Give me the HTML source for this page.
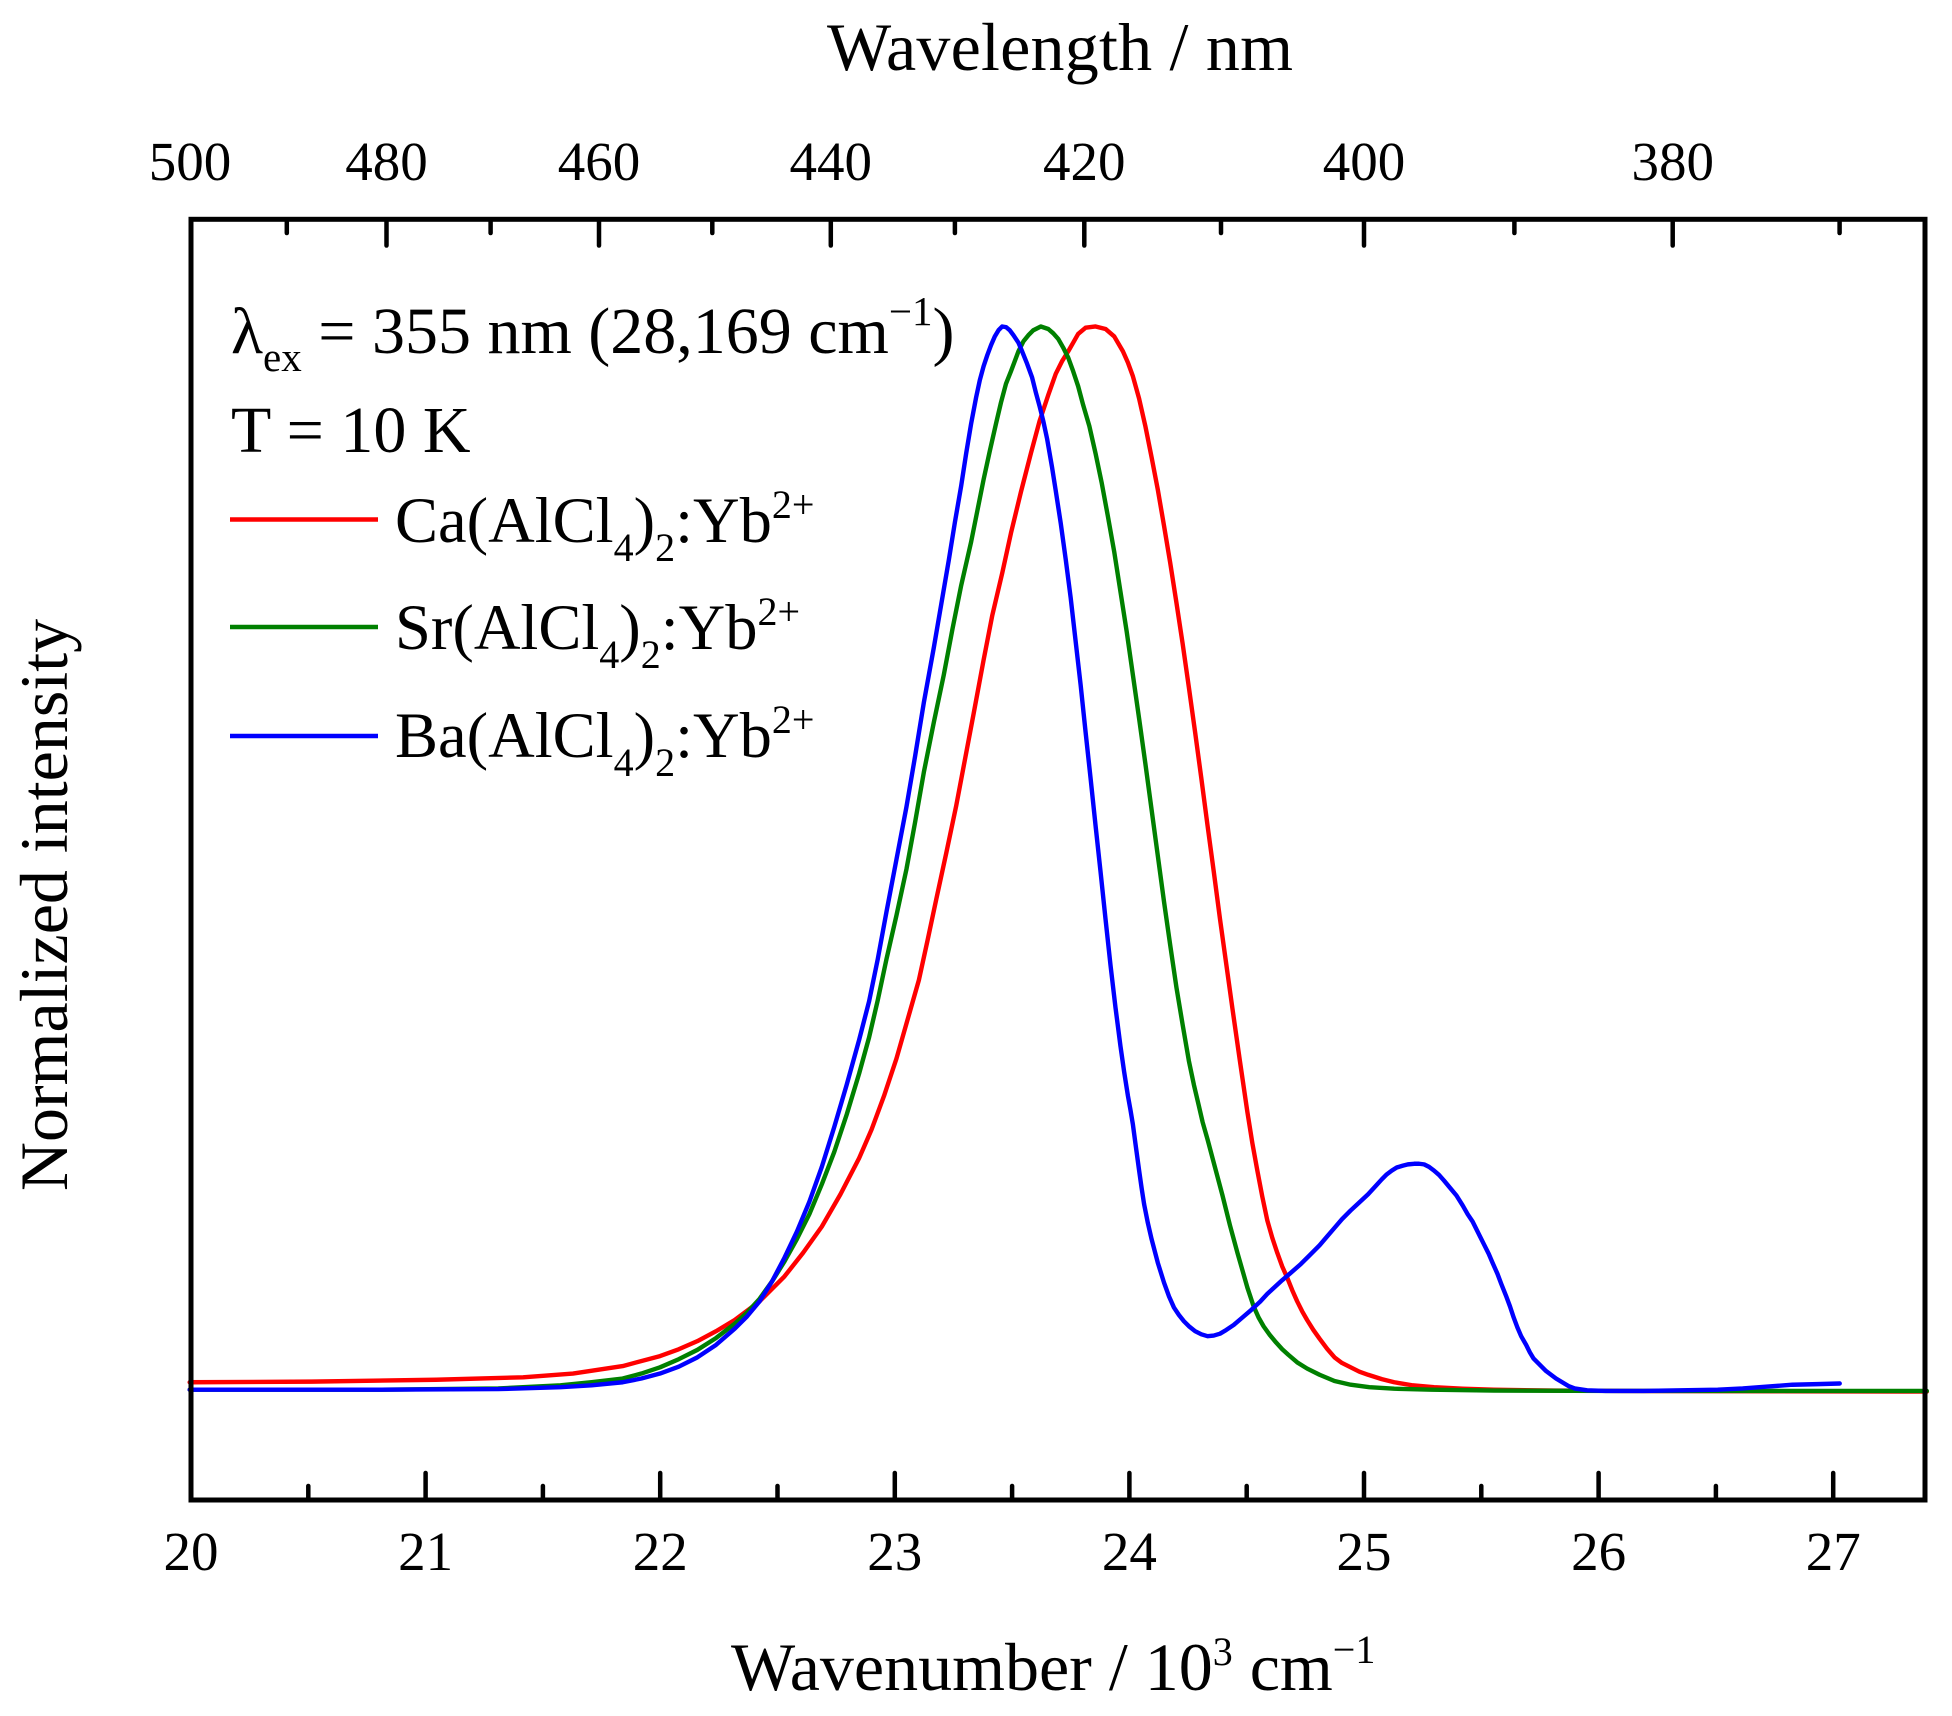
<!DOCTYPE html>
<html>
<head>
<meta charset="utf-8">
<style>
  html, body { margin: 0; padding: 0; background: #ffffff; }
  svg { display: block; }
  text { font-family: "Liberation Serif", "Times New Roman", serif; fill: #000; }
</style>
</head>
<body>
<svg width="1952" height="1716" viewBox="0 0 1952 1716" xmlns="http://www.w3.org/2000/svg">
  <rect x="0" y="0" width="1952" height="1716" fill="#ffffff"/>

  <!-- Curves (coordinates in reduced space, scaled) -->
  <g transform="matrix(1.2444 0 0 1.245 0.5 0.3)" fill="none" stroke-linejoin="round" stroke-linecap="round">
    <!-- Red: Ca -->
    <polyline vector-effect="non-scaling-stroke" stroke="#ff0000" stroke-width="4.4" points="
      152,1110 250,1109.5 350,1108 420,1106 460,1103 500,1097 530,1089 545,1083.5 560,1077 575,1069 590,1060 610,1045 630,1025
      645,1006 660,985 675,959 690,930 700,907 710,880 720,850 730,815 738,787 745,755 752,722 760,685 768,647 775,610 782,573 790,530 797,494 805,460 812,428 820,395 828,364 835,338 842,317 848,300 853,290 858,282
      862,275 866,268 872,263 880,262 888,264 895,270 902,282 906,291 910,302 915,320 920,342 925,367 930,393 935,422 940,452 945,484 950,517 955,552 960,588 965,625 970,663
      975,700 980,738 985,774 990,810 996,852 1002,893 1006,918 1010,940 1014,961 1018,980 1022,994 1026,1006 1030,1017 1034,1026 1038,1036 1042,1045 1046,1053 1050,1060 1055,1068 1060,1075 1066,1083 1072,1090
      1078,1094.5 1085,1098 1092,1101.5 1099,1104 1110,1107.5 1120,1110 1135,1112.5 1152,1114 1175,1115.2 1200,1116 1250,1116.7 1300,1117 1548,1117.5"/>
    <!-- Green: Sr -->
    <polyline vector-effect="non-scaling-stroke" stroke="#008000" stroke-width="4.4" points="
      152,1116 300,1116 400,1115 450,1112.5 475,1110 500,1107 515,1103 530,1098 545,1091.5 560,1084 575,1074.5 590,1063 600,1054 610,1043 620,1029 630,1013 640,995 650,975
      660,951 670,925 680,895 690,862 698,833 705,803 712,770 720,735 728,698 735,660 742,620 750,580 758,542 765,505 772,470 780,435 785,410 790,385 795,362 800,340 804,323 808,308 812,298 815,290 818,282 822,274
      826,269 830,265 836,262 842,264 846,267.5 850,272 854,279 858,287 862,298 866,310 870,325 875,342 880,364 885,388 890,415 895,443 900,475 905,507 910,542 915,577 920,613 925,650 930,687 935,724
      940,759 945,793 950,823 955,852 959,871 963,888 966,901 970,915 974,930 978,945 982,960 985,972 988,984 991,995 994,1006 998,1020 1002,1034 1007,1049 1011,1058 1015,1065 1020,1072 1025,1078 1030,1083.5 1035,1088
      1042,1094 1050,1099 1060,1104 1072,1109 1085,1112 1100,1114 1120,1115.2 1150,1116 1200,1116.7 1300,1117 1548,1117"/>
    <!-- Blue: Ba -->
    <polyline vector-effect="non-scaling-stroke" stroke="#0000ff" stroke-width="4.4" points="
      152,1116 300,1116 400,1115.5 450,1114 475,1112.5 500,1110 515,1107 530,1103 545,1097.5 560,1090 575,1080 590,1067 600,1057 610,1045 620,1029 630,1010 640,989 650,965
      660,937 670,905 680,871 690,835 698,804 705,770 712,732 720,690 728,648 735,607 742,564 750,520 756,485 762,450 767,419 772,390 776,364 780,340 784,319 787,305 790,294 793,285 796,277 799,270 802,265 805,262
      808,262.5 811,265 814,269 818,275 821,282 825,292 829,303 832,315 835,326 838,338 841,352 845,375 848,394 852,420 856,449 860,480 864,515 868,550 872,588 876,625 880,663 884,700 888,738 892,775 896,809 900,840
      903,861 906,880 908,891 910,903 912,918 915,940 917,954 919,967 922,982 925,995 930,1014 935,1030 939,1041 943,1050 947,1056 951,1061 955,1065 960,1069 965,1071.5 970,1073 975,1072.5 980,1071 985,1068 991,1064
      998,1058 1005,1052 1012,1045.5 1018,1039 1024,1033.5 1030,1028 1037,1022 1045,1015 1052,1008 1060,1000 1066,993 1072,986 1078,979 1085,972 1092,965.5 1099,959 1105,952.5 1110,947 1114,943 1118,940 1122,937.5 1127,936
      1131,935 1136,934.5 1140,934.5 1144,935 1148,937 1152,940 1156,943.5 1160,948 1165,954 1170,960 1175,968 1179,975 1183,981 1186,987 1189,993 1192,999 1196,1007 1199,1014 1203,1023 1206,1031 1210,1041 1213,1049
      1216,1058 1219,1066 1222,1073 1226,1080 1229,1086 1232,1091 1236,1095 1239,1098 1242,1101 1246,1104 1250,1107 1255,1110 1260,1113 1265,1115 1275,1116.5 1290,1117 1320,1117 1350,1116.5 1380,1116 1400,1115
      1420,1113.5 1440,1112 1460,1111.5 1478,1111"/>
  </g>

  <!-- Frame -->
  <rect x="191" y="219.3" width="1734" height="1280.7" fill="none" stroke="#000" stroke-width="5"/>

  <!-- Bottom ticks -->
  <g stroke="#000" stroke-width="4.5" stroke-linecap="round">
    <line x1="425.6" y1="1500" x2="425.6" y2="1473"/>
    <line x1="660.2" y1="1500" x2="660.2" y2="1473"/>
    <line x1="894.8" y1="1500" x2="894.8" y2="1473"/>
    <line x1="1129.4" y1="1500" x2="1129.4" y2="1473"/>
    <line x1="1364" y1="1500" x2="1364" y2="1473"/>
    <line x1="1598.6" y1="1500" x2="1598.6" y2="1473"/>
    <line x1="1833.2" y1="1500" x2="1833.2" y2="1473"/>
    <line x1="308.3" y1="1500" x2="308.3" y2="1486"/>
    <line x1="542.9" y1="1500" x2="542.9" y2="1486"/>
    <line x1="777.5" y1="1500" x2="777.5" y2="1486"/>
    <line x1="1012.1" y1="1500" x2="1012.1" y2="1486"/>
    <line x1="1246.7" y1="1500" x2="1246.7" y2="1486"/>
    <line x1="1481.3" y1="1500" x2="1481.3" y2="1486"/>
    <line x1="1715.9" y1="1500" x2="1715.9" y2="1486"/>
  </g>

  <!-- Top ticks -->
  <g stroke="#000" stroke-width="4.5" stroke-linecap="round">
    <line x1="386.5" y1="219.3" x2="386.5" y2="245.5"/>
    <line x1="599" y1="219.3" x2="599" y2="245.5"/>
    <line x1="830.8" y1="219.3" x2="830.8" y2="245.5"/>
    <line x1="1084.3" y1="219.3" x2="1084.3" y2="245.5"/>
    <line x1="1364" y1="219.3" x2="1364" y2="245.5"/>
    <line x1="1672.7" y1="219.3" x2="1672.7" y2="245.5"/>
    <line x1="286.8" y1="219.3" x2="286.8" y2="233"/>
    <line x1="490.6" y1="219.3" x2="490.6" y2="233"/>
    <line x1="712.3" y1="219.3" x2="712.3" y2="233"/>
    <line x1="954.9" y1="219.3" x2="954.9" y2="233"/>
    <line x1="1221" y1="219.3" x2="1221" y2="233"/>
    <line x1="1514.4" y1="219.3" x2="1514.4" y2="233"/>
    <line x1="1839.6" y1="219.3" x2="1839.6" y2="233"/>
  </g>

  <!-- Bottom tick labels -->
  <g font-size="55" text-anchor="middle">
    <text x="191" y="1570">20</text>
    <text x="425.6" y="1570">21</text>
    <text x="660.2" y="1570">22</text>
    <text x="894.8" y="1570">23</text>
    <text x="1129.4" y="1570">24</text>
    <text x="1364" y="1570">25</text>
    <text x="1598.6" y="1570">26</text>
    <text x="1833.2" y="1570">27</text>
  </g>

  <!-- Top tick labels -->
  <g font-size="55" text-anchor="middle">
    <text x="190" y="180">500</text>
    <text x="386.5" y="180">480</text>
    <text x="599" y="180">460</text>
    <text x="830.8" y="180">440</text>
    <text x="1084.3" y="180">420</text>
    <text x="1364" y="180">400</text>
    <text x="1672.7" y="180">380</text>
  </g>

  <!-- Axis titles -->
  <text x="827" y="70" font-size="68" textLength="466">Wavelength / nm</text>
  <text x="731" y="1690" font-size="68">Wavenumber / 10<tspan font-size="40" dy="-25">3</tspan><tspan dy="25"> cm</tspan><tspan font-size="40" dy="-27">−1</tspan></text>
  <text transform="translate(67,905) rotate(-90)" font-size="68" text-anchor="middle">Normalized intensity</text>

  <!-- Annotation -->
  <text x="231" y="353" font-size="66">λ<tspan font-size="41" dy="18">ex</tspan><tspan dy="-18"> = 355 nm (28,169 cm</tspan><tspan font-size="41" dy="-28">−1</tspan><tspan dy="28">)</tspan></text>
  <text x="231" y="452" font-size="66">T = 10 K</text>

  <!-- Legend -->
  <g stroke-width="4.4">
    <line x1="230" y1="519.5" x2="378" y2="519.5" stroke="#ff0000"/>
    <line x1="230" y1="627" x2="378" y2="627" stroke="#008000"/>
    <line x1="230" y1="736" x2="378" y2="736" stroke="#0000ff"/>
  </g>
  <text x="395" y="542" font-size="64.5">Ca(AlCl<tspan font-size="40" dy="19">4</tspan><tspan dy="-19">)</tspan><tspan font-size="40" dy="19">2</tspan><tspan dy="-19">:Yb</tspan><tspan font-size="40" dy="-24">2+</tspan></text>
  <text x="395" y="649" font-size="64.5">Sr(AlCl<tspan font-size="40" dy="19">4</tspan><tspan dy="-19">)</tspan><tspan font-size="40" dy="19">2</tspan><tspan dy="-19">:Yb</tspan><tspan font-size="40" dy="-24">2+</tspan></text>
  <text x="395" y="757" font-size="64.5">Ba(AlCl<tspan font-size="40" dy="19">4</tspan><tspan dy="-19">)</tspan><tspan font-size="40" dy="19">2</tspan><tspan dy="-19">:Yb</tspan><tspan font-size="40" dy="-24">2+</tspan></text>
</svg>
</body>
</html>
